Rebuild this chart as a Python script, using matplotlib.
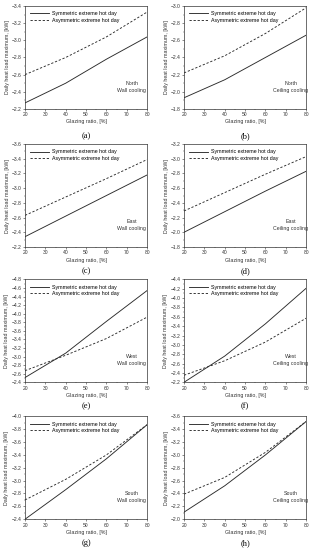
import numpy as np
import matplotlib
matplotlib.use("Agg")
import matplotlib.pyplot as plt
from matplotlib.ticker import MultipleLocator

plt.rcParams['font.family'] = ['Liberation Sans', 'DejaVu Sans']

# glazing ratio, %
glazing = [20, 40, 60, 80]

# daily heat load maximum, kW  (symmetric / asymmetric extreme hot day)
sym_a = [-2.27, -2.50, -2.78, -3.04]
asym_a = [-2.60, -2.80, -3.04, -3.33]
sym_b = [-1.93, -2.14, -2.40, -2.66]
asym_b = [-2.22, -2.42, -2.68, -2.98]
sym_c = [-2.34, -2.62, -2.90, -3.18]
asym_c = [-2.63, -2.88, -3.13, -3.39]
sym_d = [-2.00, -2.28, -2.56, -2.83]
asym_d = [-2.29, -2.54, -2.79, -3.03]
sym_e = [-2.51, -3.08, -3.82, -4.54]
asym_e = [-2.67, -3.03, -3.42, -3.92]
sym_f = [-2.20, -2.76, -3.45, -4.21]
asym_f = [-2.35, -2.66, -3.06, -3.57]
sym_g = [-2.40, -2.86, -3.34, -3.87]
asym_g = [-2.70, -3.02, -3.40, -3.87]
sym_h = [-2.11, -2.52, -3.00, -3.52]
asym_h = [-2.39, -2.65, -3.04, -3.52]

orient = ['North', 'North', 'East', 'East', 'West', 'West', 'South', 'South']
mode = ['Wall cooling', 'Ceiling cooling'] * 4
captions = ['(a)', '(b)', '(c)', '(d)', '(e)', '(f)', '(g)', '(h)']
ylims = [(-2.2, -3.4), (-1.8, -3.0), (-2.2, -3.6), (-1.8, -3.2),
         (-2.4, -4.8), (-2.2, -4.4), (-2.4, -4.0), (-2.0, -3.6)]
syms = [sym_a, sym_b, sym_c, sym_d, sym_e, sym_f, sym_g, sym_h]
asyms = [asym_a, asym_b, asym_c, asym_d, asym_e, asym_f, asym_g, asym_h]

fig = plt.figure(figsize=(3.13, 5.50), dpi=100)

lefts = [0.080, 0.588]
bottoms = [0.802, 0.551, 0.305, 0.056]
w, h = 0.390, 0.187
cap_y = [0.752, 0.507, 0.262, 0.012]

for i in range(8):
    r, c = i // 2, i % 2
    ax = fig.add_axes([lefts[c], bottoms[r], w, h])
    ax.plot(glazing, syms[i], color='#2a2a2a', lw=0.65, label='Symmetric extreme hot day')
    ax.plot(glazing, asyms[i], color='#2a2a2a', lw=0.65, ls=(0, (2.5, 2)),
            label='Asymmetric extreme hot day')
    ax.set_xlim(20, 80)
    ax.set_ylim(*ylims[i])
    ax.xaxis.set_major_locator(MultipleLocator(10))
    ax.xaxis.set_minor_locator(MultipleLocator(5))
    ax.yaxis.set_major_locator(MultipleLocator(0.2))
    ax.yaxis.set_minor_locator(MultipleLocator(0.1))
    ax.tick_params(which='major', labelsize=3.6, length=1.5, width=0.4, pad=1, colors='#333333')
    ax.tick_params(which='minor', length=0.8, width=0.3, colors='#333333')
    for s in ax.spines.values():
        s.set_linewidth(0.5)
        s.set_color('#333333')
    ax.set_xlabel('Glazing ratio, [%]', fontsize=3.8, labelpad=1.5, color='#333333')
    ax.set_ylabel('Daily heat load maximum, [kW]', fontsize=3.8, labelpad=1.5, color='#333333')
    ax.legend(loc='upper left', frameon=False, fontsize=3.8, handlelength=3.5,
              borderaxespad=0.6, labelspacing=0.3, handletextpad=0.6)
    ax.text(0.875, 0.25, orient[i], transform=ax.transAxes, ha='center', va='center',
            fontsize=3.8, color='#333333')
    ax.text(0.875, 0.18, mode[i], transform=ax.transAxes, ha='center', va='center',
            fontsize=3.8, color='#333333')
    fig.text(lefts[c] + w / 2, cap_y[r], captions[i], ha='center', va='center',
             fontsize=6, family='Liberation Serif')

fig.savefig('out.png', dpi=100)
